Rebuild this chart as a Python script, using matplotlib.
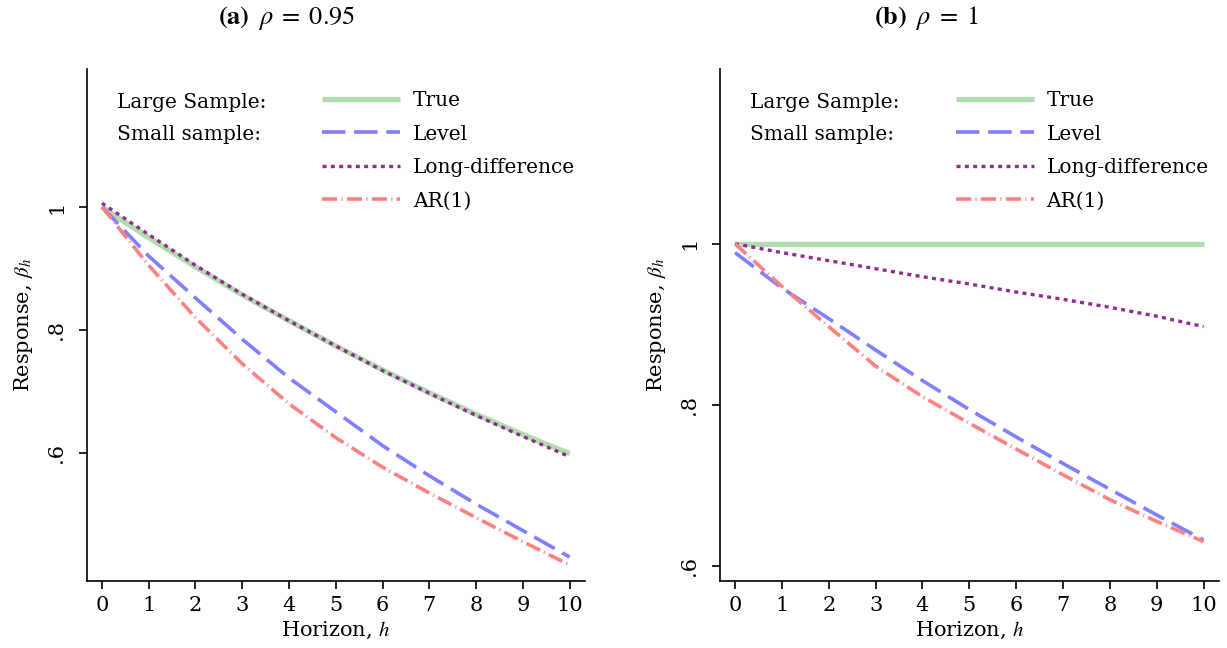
import matplotlib
matplotlib.use("Agg")
import matplotlib.pyplot as plt

plt.rcParams['font.family'] = ['DejaVu Serif']
plt.rcParams['mathtext.fontset'] = 'stix'

horizon = list(range(0, 11))

# panel (a): rho = 0.95
true_a = [1.0, 0.95, 0.9025, 0.857, 0.815, 0.774, 0.735, 0.698, 0.663, 0.630, 0.599]
level_a = [1.0, 0.92, 0.852, 0.785, 0.722, 0.667, 0.612, 0.563, 0.517, 0.474, 0.431]
longdiff_a = [1.006, 0.955, 0.905, 0.858, 0.815, 0.774, 0.734, 0.697, 0.661, 0.627, 0.594]
ar1_a = [1.0, 0.905, 0.82, 0.745, 0.68, 0.625, 0.577, 0.535, 0.495, 0.456, 0.418]

# panel (b): rho = 1
true_b = [1.0] * 11
level_b = [0.989, 0.945, 0.907, 0.868, 0.83, 0.794, 0.760, 0.727, 0.695, 0.663, 0.632]
longdiff_b = [1.0, 0.989, 0.979, 0.969, 0.959, 0.950, 0.940, 0.931, 0.921, 0.910, 0.897]
ar1_b = [1.0, 0.947, 0.897, 0.848, 0.81, 0.777, 0.745, 0.713, 0.682, 0.655, 0.630]

yticks = [0.6, 0.8, 1.0]
ytick_labels = ['.6', '.8', '1']

C_TRUE = '#b3dbb0'
C_LEVEL = '#7f7fff'
C_LD = '#912b91'
C_AR = '#ff8080'

fig = plt.figure(figsize=(12.27, 6.48), dpi=100)
ax1 = fig.add_axes([0.0709, 0.1034, 0.4059, 0.790])
ax2 = fig.add_axes([0.5868, 0.1034, 0.4067, 0.790])


def panel(ax, tr, lv, ld, ar, ylim):
    ax.plot(horizon, tr, color=C_TRUE, lw=3.8, solid_capstyle='butt', label='True')
    ax.plot(horizon, lv, color=C_LEVEL, lw=2.6, dashes=(6.5, 2.4), label='Level')
    ax.plot(horizon, ld, color=C_LD, lw=2.4, dashes=(1.2, 1.3), label='Long-difference')
    ax.plot(horizon, ar, color=C_AR, lw=2.6, dashes=(4.2, 1.2, 0.3, 1.2), label='AR(1)')
    ax.set_xlim(-0.32, 10.33)
    ax.set_ylim(*ylim)
    ax.set_xticks(horizon)
    ax.set_yticks(yticks)
    ax.set_yticklabels(ytick_labels, rotation=90, va='center')
    for s in ['top', 'right']:
        ax.spines[s].set_visible(False)
    for s in ['left', 'bottom']:
        ax.spines[s].set_linewidth(1.2)
    ax.tick_params(direction='out', length=6, width=1.2, labelsize=15)
    ax.tick_params(axis='x', pad=4.5)
    ax.tick_params(axis='y', pad=9)
    ax.set_xlabel('Horizon, $h$', fontsize=15, labelpad=4)
    ax.set_ylabel(r'Response, $\beta_h$', fontsize=15, labelpad=9)
    # legend with the group captions on the left
    ax.text(0.06, 0.9355, 'Large Sample:', transform=ax.transAxes, fontsize=14.5, va='center')
    ax.text(0.06, 0.873, 'Small sample:', transform=ax.transAxes, fontsize=14.5, va='center')
    ax.legend(loc='upper left', bbox_to_anchor=(0.464, 0.965), frameon=False,
              fontsize=14.5, handlelength=3.87, handletextpad=0.65, labelspacing=0.72,
              borderpad=0.2, borderaxespad=0)


panel(ax1, true_a, level_a, longdiff_a, ar1_a, (0.392, 1.224))
panel(ax2, true_b, level_b, longdiff_b, ar1_b, (0.581, 1.217))

fig.text(287 / 1227, 1 - 18 / 648, r'$\mathbf{(a)}\;\;\rho\;=\;0.95$', fontsize=19, ha='center', va='center')
fig.text(926 / 1227, 1 - 18 / 648, r'$\mathbf{(b)}\;\;\rho\;=\;1$', fontsize=19, ha='center', va='center')

fig.savefig('out.png', dpi=100)
